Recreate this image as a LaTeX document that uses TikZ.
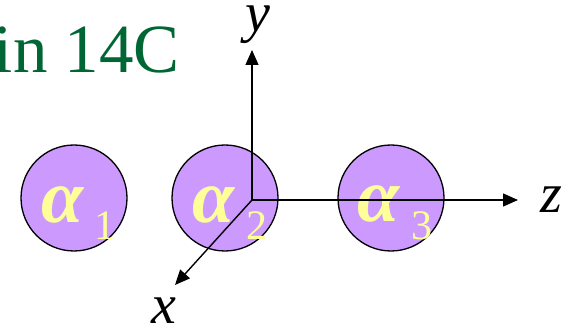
\documentclass[tikz,border=0pt]{standalone}
\usepackage{fontspec}
\setmainfont{Liberation Serif}
\usetikzlibrary{arrows.meta}
\definecolor{ballfill}{RGB}{204,153,255}
\definecolor{greektext}{RGB}{255,255,153}
\definecolor{titlegreen}{RGB}{0,102,51}
\tikzset{
  ball/.style={circle,draw=black,line width=1.3pt,fill=ballfill,minimum size=106pt,inner sep=0pt},
  alphalbl/.style={text=greektext,inner sep=0pt,font=\fontsize{76}{76}\selectfont\bfseries\itshape},
  sublbl/.style={text=greektext,inner sep=0pt,font=\fontsize{42}{42}\selectfont},
  axislbl/.style={inner sep=0pt,font=\fontsize{56}{56}\selectfont\itshape},
  axis/.style={line width=1.4pt,-{Triangle[length=15pt,width=13pt]}}
}
\begin{document}
\begin{tikzpicture}[x=1pt,y=-1pt]
\useasboundingbox (0,0) rectangle (573,331);
\clip (0,0) rectangle (573,331);
\node[anchor=base east,inner sep=0pt,text=titlegreen,font=\fontsize{69}{69}\selectfont] (title) at (180,73) {in 14C};
\node[ball] (b1) at (74,198) {};
\node[ball] (b2) at (225,198) {};
\node[ball] (b3) at (391,198) {};
\node[alphalbl] (a1) at (63,205) {α};
\node[sublbl] (s1) at (105,226) {1};
\node[alphalbl] (a2) at (214,205) {α};
\node[sublbl] (s2) at (257,226) {2};
\node[alphalbl] (a3) at (379,204) {α};
\node[sublbl] (s3) at (422,226) {3};
\coordinate (o) at (252,200);
\coordinate (ytip) at (252,50);
\coordinate (ztip) at (518,200);
\coordinate (xtip) at (175,285);
\draw[axis] (o) -- (ytip);
\draw[axis] (o) -- (ztip);
\draw[axis] (o) -- (xtip);
\node[axislbl] (ylbl) at (258,25) {y};
\node[axislbl] (zlbl) at (551,200) {z};
\node[axislbl] (xlbl) at (164,311) {x};
\end{tikzpicture}
\end{document}
